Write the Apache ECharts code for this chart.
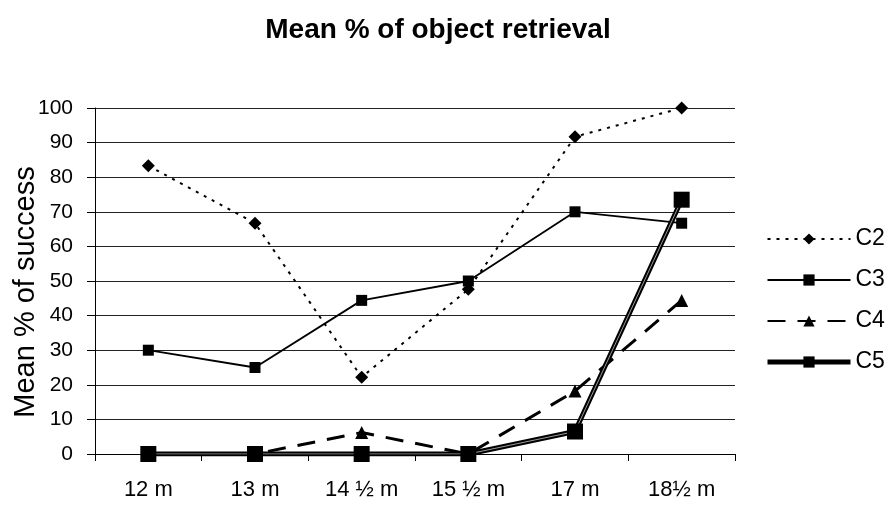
<!DOCTYPE html>
<html><head><meta charset="utf-8">
<script src="https://cdn.jsdelivr.net/npm/echarts@6/dist/echarts.min.js"></script>
<style>html,body{margin:0;padding:0;background:#fff}#c{width:888px;height:506px}</style>
</head><body><div id="c"></div>
<script>
const categories = ['12 m', '13 m', '14 \u00bd m', '15 \u00bd m', '17 m', '18\u00bd m'];
const c2 = [83.3, 66.7, 22.2, 47.6, 91.7, 100];
const c3 = [30, 25, 44.4, 50, 70, 66.7];
const c4 = [0, 0, 6.2, 0, 18.2, 44.4];
const c5 = [0, 0, 0, 0, 6.5, 73.5];
const yTicks = [0, 10, 20, 30, 40, 50, 60, 70, 80, 90, 100];

const FONT = '"Liberation Sans", Arial, sans-serif';
const chart = echarts.init(document.getElementById('c'));
chart.setOption({
  animation: false,
  backgroundColor: '#fff',
  title: {
    text: 'Mean % of object retrieval',
    left: 433, top: 11, textAlign: 'center',
    textStyle: { fontFamily: FONT, fontWeight: 'bold', fontSize: 28, color: '#000' }
  },
  legend: {
    orient: 'vertical', left: 760, top: 222,
    itemWidth: 83, itemHeight: 14, itemGap: 17,
    textStyle: { fontFamily: FONT, fontSize: 23, lineHeight: 24, color: '#000', padding: [0, 0, 0, 0] },
    data: [
      { name: 'C2' },
      { name: 'C3' },
      { name: 'C4' },
      { name: 'C5', lineStyle: { width: 5, color: '#000' } }
    ]
  },
  grid: { left: 95, right: 153, top: 108, bottom: 52, containLabel: false, outerBoundsMode: 'none' },
  xAxis: {
    type: 'category', data: categories, boundaryGap: true,
    axisLine: { lineStyle: { color: '#000', width: 1 } },
    axisTick: { show: true, length: 7, lineStyle: { color: '#000' } },
    axisLabel: { fontFamily: FONT, fontSize: 22, color: '#000', margin: 25 }
  },
  yAxis: {
    type: 'value', min: 0, max: 100, interval: 10,
    name: 'Mean % of success', nameLocation: 'middle', nameGap: 55, nameRotate: 90,
    nameMoveOverlap: false,
    nameTextStyle: { fontFamily: FONT, fontSize: 29, color: '#000', padding: [0, 22, 0, 0] },
    axisLine: { show: true, lineStyle: { color: '#000', width: 1 } },
    axisTick: { show: true, length: 8, lineStyle: { color: '#000' } },
    axisLabel: { fontFamily: FONT, fontSize: 21, color: '#000', margin: 22,
      formatter: v => yTicks.includes(v) ? String(v) : '' },
    splitLine: { show: true, lineStyle: { color: '#222', width: 1.2 } }
  },
  series: [
    { name: 'C2', type: 'line', data: c2, symbol: 'diamond', symbolSize: 13,
      itemStyle: { color: '#000' },
      lineStyle: { color: '#000', width: 2, type: [3, 6] }, z: 3 },
    { name: 'C3', type: 'line', data: c3, symbol: 'rect', symbolSize: 11,
      itemStyle: { color: '#000' },
      lineStyle: { color: '#000', width: 1.8, type: 'solid' }, z: 4 },
    { name: 'C4', type: 'line', data: c4, symbol: 'triangle', symbolSize: 13,
      itemStyle: { color: '#000' },
      lineStyle: { color: '#000', width: 3, type: [18, 12] }, z: 3 },
    { name: 'C5', type: 'line', data: c5, symbol: 'rect', symbolSize: 16, showSymbol: false,
      itemStyle: { color: '#000' },
      lineStyle: { color: '#000', width: 5 }, z: 5 },
    { name: 'C5', type: 'line', data: c5, symbol: 'none',
      lineStyle: { color: '#9a9a9a', width: 1 }, z: 6 },
    { name: 'C5', type: 'line', data: c5, symbol: 'rect', symbolSize: 16,
      itemStyle: { color: '#000' },
      lineStyle: { opacity: 0 }, z: 7 }
  ]
});
</script></body></html>
